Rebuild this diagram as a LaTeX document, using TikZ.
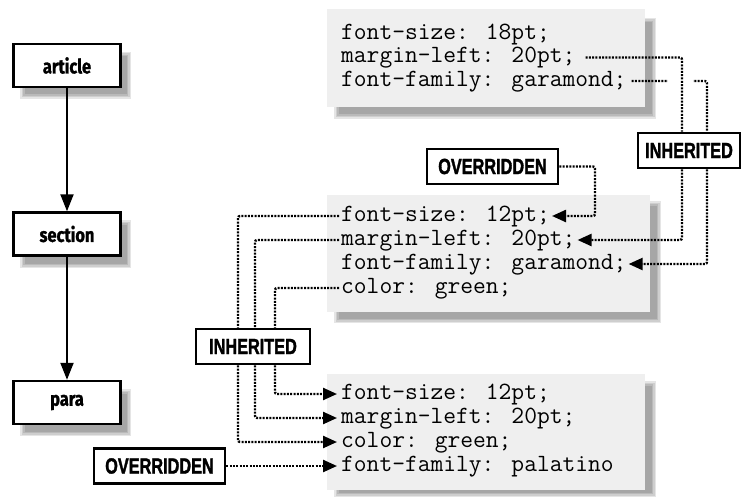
\documentclass[tikz,border=0pt]{standalone}
\usepackage{fontspec}
\usetikzlibrary{arrows.meta}
\newfontfamily\labfont[FakeStretch=0.74, BoldFeatures={FakeBold=1.5}]{Liberation Sans}
\newfontfamily\elemfont[FakeStretch=0.82, BoldFeatures={FakeBold=1.2}]{Fira Sans}
\definecolor{codebg}{RGB}{239,239,239}
\newcommand\softshadow[4]{%
  \foreach \k in {0,1,2,3}{%
    \fill[black, fill opacity=0.1] ({#1+1.5*\k},{#2+1.5*\k}) rectangle ({#3-1.5*\k},{#4-1.5*\k});
  }}
\begin{document}
\begin{tikzpicture}[x=1pt,y=-1pt,
  elem/.style={draw=black, line width=2.4pt, fill=white, minimum width=107pt, minimum height=43pt, inner sep=0pt, font=\elemfont\bfseries\fontsize{20}{24}\selectfont},
  tag/.style={draw=black, line width=2.8pt, fill=white, minimum height=35pt, inner sep=0pt, font=\labfont\bfseries\fontsize{22}{26}\selectfont},
  code/.style={font=\ttfamily\fontsize{24.8}{28}\selectfont, anchor=west, inner xsep=2pt, inner ysep=0pt, text height=10.7pt, text depth=0pt},
  dotline/.style={line width=2.4pt, dash pattern=on 2pt off 1.3pt, rounded corners=2pt},
  dotarrow/.style={dotline, -{Triangle[length=14pt,width=12pt]}},
  solidarrow/.style={line width=2pt, -{Triangle[length=17pt,width=13pt]}}
]
\useasboundingbox (0,0) rectangle (741,497);

% code boxes
\softshadow{334}{18}{656}{119}
\fill[codebg] (327,9) rectangle (645,107);
\softshadow{334}{201}{661}{323}
\fill[codebg] (327,195) rectangle (650,312);
\softshadow{334}{381}{656}{497}
\fill[codebg] (327,374) rectangle (645,490);

% element boxes
\softshadow{20}{52}{131}{99}
\node[elem] (article) at (67,65.5) {article};
\softshadow{20}{220}{131}{268}
\node[elem] (section) at (67,234) {section};
\softshadow{20}{389}{131}{436}
\node[elem] (para) at (67,402.5) {para};

\draw[solidarrow] (article) -- (section);
\draw[solidarrow] (section) -- (para);

% code lines
\node[code] (t1) at (339,34) {font-size: 18pt;};
\node[code] (t2) at (339,57.5) {margin-left: 20pt;};
\node[code] (t3) at (339,81) {font-family: garamond;};
\node[code] (m1) at (339,216) {font-size: 12pt;};
\node[code] (m2) at (339,240) {margin-left: 20pt;};
\node[code] (m3) at (339,264) {font-family: garamond;};
\node[code] (m4) at (339,288) {color: green;};
\node[code] (b1) at (339,394) {font-size: 12pt;};
\node[code] (b2) at (339,418) {margin-left: 20pt;};
\node[code] (b3) at (339,442) {color: green;};
\node[code] (b4) at (339,466) {font-family: palatino};

% tag boxes
\node[tag, minimum width=102pt] (ih1) at (689,150.5) {INHERITED};
\node[tag, minimum width=131pt] (ov1) at (492.5,166.5) {OVERRIDDEN};
\node[tag, minimum width=114pt] (ih2) at (253,346.5) {INHERITED};
\node[tag, minimum width=131pt] (ov2) at (159.5,466) {OVERRIDDEN};

\coordinate (x238) at (238,0);
\coordinate (x255) at (255,0);
\coordinate (x275) at (275,0);
\coordinate (x682) at (682,0);
\coordinate (x707) at (707,0);
\coordinate (c595) at (595,216);

% connectors
\draw[dotline] ([xshift=3pt]t3.east) -| (ih1.north -| x707);
\fill[white] (668,77) rectangle (693,87);
\draw[dotline] ([xshift=8pt]t2.east) -| (ih1.north -| x682);
\draw[dotarrow] (ih1.south -| x682) |- (m2.east);
\draw[dotarrow] (ih1.south -| x707) |- (m3.east);
\draw[dotarrow] (ov1.east) -| (c595) -- (m1.east);
\draw[dotline] (m1.west) -| (ih2.north -| x238);
\draw[dotline] (m2.west) -| (ih2.north -| x255);
\draw[dotline] (m4.west) -| (ih2.north -| x275);
\draw[dotarrow, shorten >=2pt] (ih2.south -| x275) |- (b1.west);
\draw[dotarrow, shorten >=2pt] (ih2.south -| x255) |- (b2.west);
\draw[dotarrow, shorten >=2pt] (ih2.south -| x238) |- (b3.west);
\draw[dotarrow, shorten >=2pt] (ov2.east) -- (b4.west);
\end{tikzpicture}
\end{document}
